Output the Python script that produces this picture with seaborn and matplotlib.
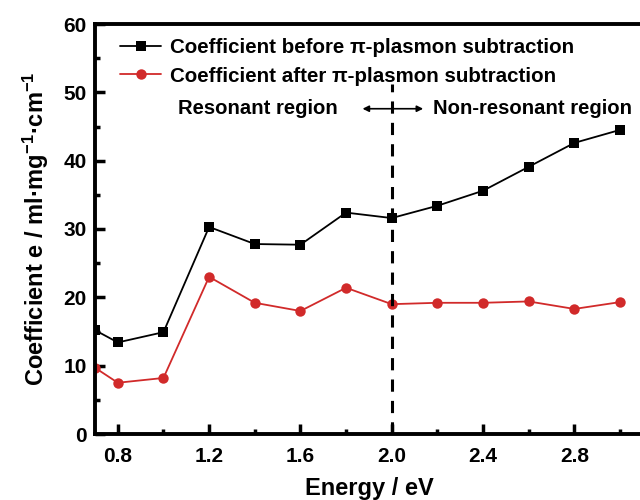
import numpy as np
import pandas as pd
import matplotlib
matplotlib.use("Agg")
import matplotlib.pyplot as plt
import seaborn as sns
from matplotlib.ticker import MultipleLocator
from matplotlib.lines import Line2D

energy = [0.7, 0.8, 1.0, 1.2, 1.4, 1.6, 1.8, 2.0, 2.2, 2.4, 2.6, 2.8, 3.0]
before = [15.2, 13.4, 14.9, 30.3, 27.8, 27.7, 32.4, 31.6, 33.4, 35.6, 39.1, 42.6, 44.5]
after = [9.7, 7.5, 8.2, 23.0, 19.2, 18.0, 21.4, 19.0, 19.2, 19.2, 19.4, 18.3, 19.3]
label_before = "Coefficient before π-plasmon subtraction"
label_after = "Coefficient after π-plasmon subtraction"
xtick_labels = ["0.8", "1.2", "1.6", "2.0", "2.4", "2.8"]

df = pd.DataFrame({
    "Energy": energy * 2,
    "Coef": before + after,
    "Series": [label_before] * len(energy) + [label_after] * len(energy),
})

sns.set_theme(style="ticks")
plt.rcParams['font.family'] = ['Liberation Sans', 'DejaVu Sans']
plt.rcParams['font.weight'] = 'bold'
plt.rcParams['mathtext.fontset'] = 'custom'
plt.rcParams['mathtext.rm'] = 'Liberation Sans:bold'
plt.rcParams['mathtext.default'] = 'rm'
for key in ['text.color', 'axes.labelcolor', 'xtick.color', 'ytick.color', 'axes.edgecolor']:
    plt.rcParams[key] = 'black'

RED = "#d12a2a"
fig = plt.figure(figsize=(6.4, 5.0), dpi=100)
ax = fig.add_axes([0.1484, 0.132, 0.856, 0.820])

sns.lineplot(data=df, x="Energy", y="Coef", hue="Series", style="Series",
             palette={label_before: "black", label_after: RED},
             markers={label_before: "s", label_after: "o"},
             dashes=False, ax=ax, linewidth=1.3, markeredgewidth=0,
             legend=False)
ax.lines[0].set_markersize(6.5)
ax.lines[1].set_markersize(7.5)

ax.set_xlim(0.7, 3.1)
ax.set_ylim(0, 60)

ax.axvline(2.0, ymin=0, ymax=51.2/60, color="black", linestyle=(0, (4, 3)), linewidth=2.2)
ax.annotate("", xy=(2.15, 47.6), xytext=(1.86, 47.6),
            arrowprops=dict(arrowstyle="<|-|>", color="black", lw=1.2, mutation_scale=9))
ax.text(1.765, 47.6, "Resonant region", ha="right", va="center", fontsize=14.6, fontweight="bold")
ax.text(2.18, 47.6, "Non-resonant region", ha="left", va="center", fontsize=14.6, fontweight="bold")

handles = [Line2D([], [], color="black", marker="s", markersize=6.5, markeredgewidth=0, lw=1.3),
           Line2D([], [], color=RED, marker="o", markersize=7.5, markeredgewidth=0, lw=1.3)]
ax.legend(handles, [label_before, label_after], loc="upper left", bbox_to_anchor=(0.02, 1.0),
          frameon=False, prop={"size": 14.8, "weight": "bold"}, handlelength=2.0,
          handletextpad=0.4, labelspacing=0.45, borderaxespad=0.3)

ax.set_xticks([0.8, 1.2, 1.6, 2.0, 2.4, 2.8])
ax.set_xticklabels(xtick_labels)
ax.xaxis.set_minor_locator(MultipleLocator(0.2))
ax.yaxis.set_major_locator(MultipleLocator(10))
ax.yaxis.set_minor_locator(MultipleLocator(5))
ax.tick_params(which="major", direction="in", length=7.5, width=2.5, labelsize=15, pad=6, colors="black")
ax.tick_params(axis="x", which="major", pad=9)
ax.tick_params(which="minor", direction="in", length=3.5, width=2.5, colors="black")
for s in ax.spines.values():
    s.set_linewidth(2.8)
    s.set_color("black")
    s.set_visible(True)
for lab in ax.get_xticklabels() + ax.get_yticklabels():
    lab.set_fontweight("bold")

ax.set_xlabel("Energy / eV", fontsize=17, fontweight="bold", labelpad=8, color="black")
ax.set_ylabel(r"Coefficient e / ml·mg$^{-1}$·cm$^{-1}$", fontsize=17, fontweight="bold", labelpad=9, color="black")

fig.savefig("out.png", dpi=100)
